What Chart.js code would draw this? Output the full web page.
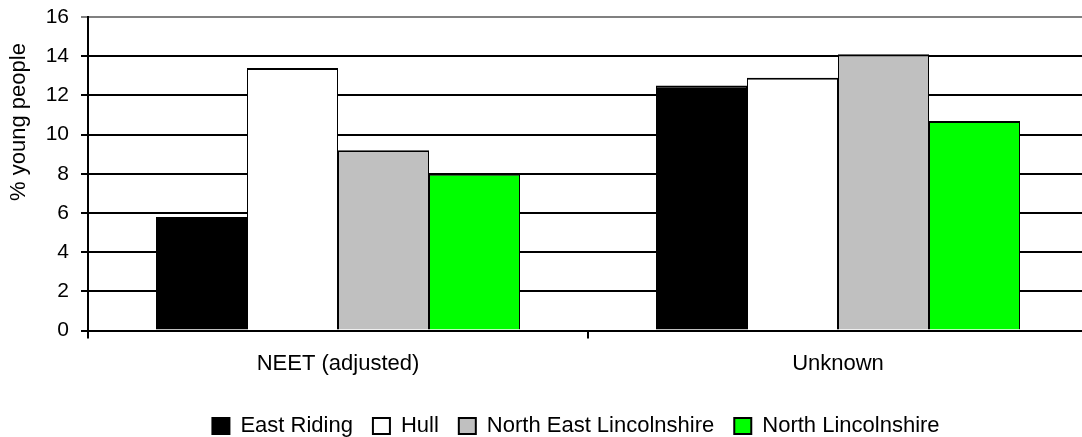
<!DOCTYPE html>
<html>
<head>
<meta charset="utf-8">
<script src="https://cdn.jsdelivr.net/npm/chart.js@4"></script>
<style>
  html, body { margin: 0; padding: 0; background: #fff; overflow: hidden; }
  #wrap { width: 1082px; height: 437px; overflow: hidden; }
  canvas { display: block; }
</style>
</head>
<body>
<div id="wrap"><canvas id="c" width="1100" height="437" style="width:1100px;height:437px"></canvas></div>
<script>
const categories = ['NEET (adjusted)', 'Unknown'];
const seriesNames = ['East Riding', 'Hull', 'North East Lincolnshire', 'North Lincolnshire'];
const eastRiding = [5.8, 12.5];
const hull = [13.4, 12.9];
const northEastLincolnshire = [9.2, 14.1];
const northLincolnshire = [8.0, 10.7];
const seriesColors = ['#000000', '#ffffff', '#c0c0c0', '#00ff00'];
const yTitle = '% young people';

const FONT = '"Liberation Sans", Arial, sans-serif';

const seriesValues = [eastRiding, hull, northEastLincolnshire, northLincolnshire];

const datasets = seriesNames.map((name, i) => ({
  label: name,
  data: seriesValues[i],
  backgroundColor: seriesColors[i],
  borderColor: '#000000',
  borderWidth: { top: 2, left: 1, right: 1, bottom: 0 },
  borderSkipped: 'start',
  categoryPercentage: 0.728,
  barPercentage: 1.0
}));

// Rotated y-axis caption, drawn beside the tick labels
const yCaption = {
  id: 'yCaption',
  afterDraw(chart) {
    const ctx = chart.ctx;
    ctx.save();
    ctx.translate(19, 122);
    ctx.rotate(-Math.PI / 2);
    ctx.font = '22px ' + FONT;
    ctx.fillStyle = '#000';
    ctx.textAlign = 'center';
    ctx.textBaseline = 'middle';
    ctx.fillText(yTitle, 0, 0);
    ctx.restore();
  }
};

// Nudge the legend row to sit under the plot
const legendShift = {
  id: 'legendShift',
  afterLayout(chart) {
    const lg = chart.legend;
    if (lg) {
      lg.left += 32;
      lg.right += 32;
      lg.top += 6;
      lg.bottom += 6;
    }
  }
};

new Chart(document.getElementById('c'), {
  type: 'bar',
  data: { labels: categories, datasets },
  plugins: [yCaption, legendShift],
  options: {
    responsive: false,
    devicePixelRatio: 1,
    animation: false,
    layout: { padding: { left: 0, right: 12, top: 17, bottom: -4 } },
    plugins: {
      tooltip: { enabled: false },
      legend: {
        position: 'bottom',
        labels: {
          font: { family: FONT, size: 22 },
          color: '#000',
          boxWidth: 17,
          boxHeight: 16,
          padding: 20,
          generateLabels(chart) {
            const items = Chart.defaults.plugins.legend.labels.generateLabels(chart);
            items.forEach(it => { it.lineWidth = 2; it.strokeStyle = '#000'; });
            return items;
          }
        }
      }
    },
    scales: {
      x: {
        offset: true,
        grid: {
          offset: true,
          drawOnChartArea: false,
          drawTicks: true,
          tickLength: 8,
          color: '#000',
          lineWidth: 2
        },
        border: { display: true, color: '#000', width: 2 },
        ticks: {
          font: { family: FONT, size: 22 },
          color: '#000',
          padding: 12,
          maxRotation: 0
        }
      },
      y: {
        min: 0,
        max: 16,
        afterFit(scale) { scale.width = 88; scale.paddingTop = 0; },
        grid: {
          drawTicks: true,
          tickLength: 7,
          lineWidth: 2,
          color: ctx => (ctx.tick && ctx.tick.value === 16 ? '#808080' : '#000')
        },
        border: { display: true, color: '#000', width: 2 },
        ticks: {
          stepSize: 2,
          font: { family: FONT, size: 21 },
          color: '#000',
          padding: 12
        }
      }
    }
  }
});
</script>
</body>
</html>
